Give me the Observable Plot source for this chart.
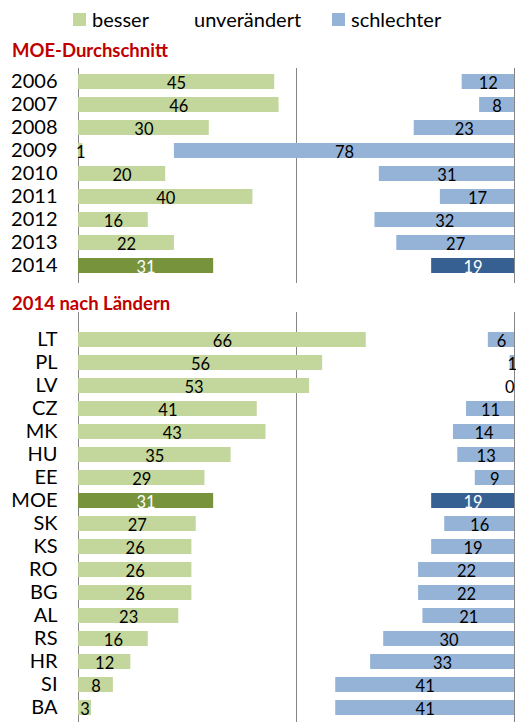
<!DOCTYPE html>
<html><head><meta charset="utf-8">
<script src="https://cdn.jsdelivr.net/npm/d3@7"></script>
<script src="https://cdn.jsdelivr.net/npm/@observablehq/plot@0.6"></script>
<style>
body{margin:0;background:#fff;font-family:Lato,"Open Sans",sans-serif;}
#root{position:relative;width:516px;height:722px;overflow:hidden;background:#fff;}
.abs{position:absolute;}
.title{color:#c00000;font-weight:bold;font-size:18.5px;white-space:nowrap;line-height:1;}
.leg{font-size:20px;color:#000;line-height:1;white-space:nowrap;display:flex;align-items:center;}
.sw{width:13px;height:13px;display:inline-block;margin-right:6px;}
svg{position:absolute;left:0;}
</style></head><body><div id="root"></div>
<script>
// ---- data ----
const seriesNames = ["besser", "unverändert", "schlechter"];
const seriesColors = ["#c3d69b", "#ffffff", "#95b3d7"];
const years = ["2006","2007","2008","2009","2010","2011","2012","2013","2014"];
const yearBetter = [45, 46, 30, 1, 20, 40, 16, 22, 31];
const yearWorse  = [12, 8, 23, 78, 31, 17, 32, 27, 19];
const countries = ["LT","PL","LV","CZ","MK","HU","EE","MOE","SK","KS","RO","BG","AL","RS","HR","SI","BA"];
const countryBetter = [66, 56, 53, 41, 43, 35, 29, 31, 27, 26, 26, 26, 23, 16, 12, 8, 3];
const countryWorse  = [6, 1, 0, 11, 14, 13, 9, 19, 16, 19, 22, 22, 21, 30, 33, 41, 41];
const highlight = ["2014", "MOE"];
const titles = ["MOE-Durchschnitt", "2014 nach Ländern"];

const darkGreen = "#77933c", darkBlue = "#376092";
const root = document.getElementById("root");

// legend
const legX = [73, 175, 332];
seriesNames.forEach((n, i) => {
  const d = document.createElement("div");
  d.className = "abs leg";
  d.style.left = legX[i] + "px";
  d.style.top = "9px";
  d.innerHTML = `<span class="sw" style="background:${seriesColors[i]}"></span>${n}`;
  root.appendChild(d);
});

function title(text, top) {
  const d = document.createElement("div");
  d.className = "abs title";
  d.style.left = "12px";
  d.style.top = top + "px";
  d.textContent = text;
  root.appendChild(d);
}
title(titles[0], 41);
title(titles[1], 294);

function panel(cats, better, worse, top, height, range, marginTop, marginBottom) {
  const rows = cats.map((c, i) => ({c, b: better[i], w: worse[i], hl: highlight.includes(c)}));
  const lblFill = d => d.hl ? "#fff" : "#000";
  const chart = Plot.plot({
    width: 516, height, marginLeft: 78, marginRight: 2, marginTop, marginBottom,
    style: {fontFamily: "Lato, sans-serif", background: "transparent"},
    x: {domain: [0, 100], axis: null},
    y: {type: "band", domain: cats, range, paddingInner: 0.33, paddingOuter: 0.165, label: null},
    marks: [
      Plot.ruleX([0, 50, 100], {stroke: "#868686", strokeWidth: 1}),
      Plot.barX(rows, {y: "c", x1: 0, x2: "b", fill: d => d.hl ? darkGreen : seriesColors[0]}),
      Plot.barX(rows, {y: "c", x1: d => 100 - d.w, x2: 100, fill: d => d.hl ? darkBlue : seriesColors[2]}),
      Plot.text(rows, {y: "c", x: d => d.b / 2, text: d => String(d.b), fontSize: 16.5, dy: 1.5, fill: lblFill}),
      Plot.text(rows.filter(d => d.w > 0), {y: "c", x: d => 100 - d.w / 2, text: d => String(d.w), fontSize: 16.5, dy: 1.5, fill: lblFill}),
      Plot.text(rows.filter(d => d.w === 0), {y: "c", x: 100, text: d => String(d.w), fontSize: 16.5, dy: 1.5, textAnchor: "end", fill: lblFill}),
      Plot.axisY({tickSize: 0, tickPadding: 21, fontSize: 20, fill: "#000", label: null})
    ]
  });
  chart.style.top = top + "px";
  root.appendChild(chart);
}

panel(years, yearBetter, yearWorse, 60, 225, [9.4, 218.2], 8, 2);
panel(countries, countryBetter, countryWorse, 310, 412, [15, 412.8], 2, 0);
</script></body></html>
